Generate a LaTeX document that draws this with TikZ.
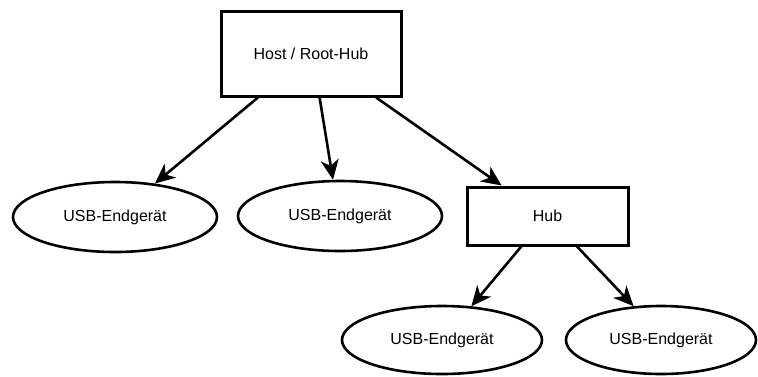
\documentclass[tikz,border=0pt]{standalone}
\usepackage{fontspec}
\setmainfont{Liberation Sans}
\usetikzlibrary{arrows.meta, shapes.geometric, calc}

\tikzset{
  hostbox/.style={draw, line width=3pt, minimum width=180pt, minimum height=85pt, inner sep=0pt},
  hubbox/.style={draw, line width=3pt, minimum width=161pt, minimum height=58pt, inner sep=0pt},
  device/.style={draw, ellipse, line width=2.6pt, inner sep=0pt},
  link/.style={-{Stealth[length=20pt, width=18pt, inset=6pt]}, line width=2.6pt}
}

\begin{document}
\begin{tikzpicture}[x=1pt, y=-1pt, every node/.style={font=\fontsize{16}{19}\selectfont}]
  \useasboundingbox (0,0) rectangle (758,376);

  % Host and hub
  \node[hostbox] (host) at (311, 53.5) {Host / Root-Hub};
  \node[hubbox] (hub) at (547.5, 216) {Hub};

  % Devices
  \node[device, minimum width=204pt, minimum height=70pt] (dev1) at (115, 217) {USB-Endgerät};
  \node[device, minimum width=204pt, minimum height=70pt] (dev2) at (340, 216) {USB-Endgerät};
  \node[device, minimum width=200pt, minimum height=68pt] (dev3) at (442, 340) {USB-Endgerät};
  \node[device, minimum width=190pt, minimum height=68pt] (dev4) at (661, 340) {USB-Endgerät};

  % Host -> devices / hub
  \draw[link] ($(host.south west)!0.21!(host.south east)$) -- (dev1.40);
  \draw[link] ($(host.south west)!0.547!(host.south east)$) -- (dev2.101);
  \draw[link] ($(host.south west)!0.856!(host.south east)$) -- ($(hub.north west)!0.22!(hub.north east)$);

  % Hub -> devices
  \draw[link] ($(hub.south west)!0.34!(hub.south east)$) -- (dev3.49);
  \draw[link] ($(hub.south west)!0.68!(hub.south east)$) -- (dev4.129);
\end{tikzpicture}
\end{document}
